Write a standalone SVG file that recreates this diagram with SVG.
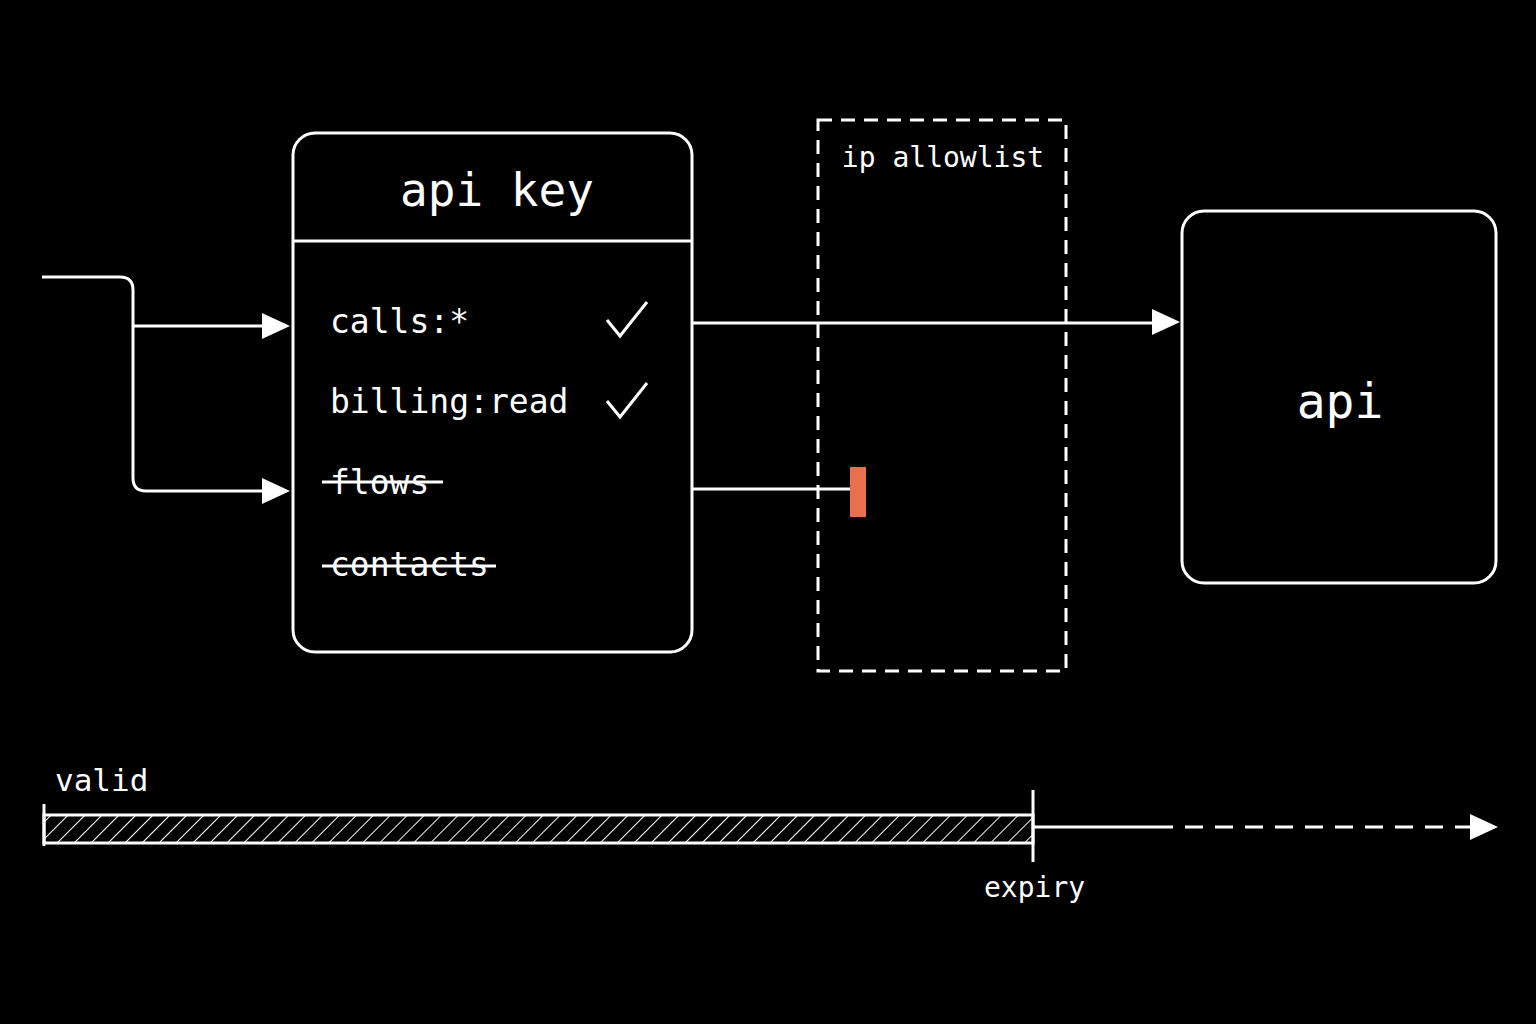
<svg xmlns="http://www.w3.org/2000/svg" width="1536" height="1024" viewBox="0 0 1536 1024">
<defs>
<style>
.s{fill:none;stroke:#fff;stroke-width:3}
.t{font-family:"DejaVu Sans Mono","Liberation Mono",monospace;fill:#fff}
</style>
<marker id="ah" viewBox="0 0 10 10" refX="9" refY="5" markerWidth="10" markerHeight="10" markerUnits="userSpaceOnUse" orient="auto"><path d="M0,0 L10,5 L0,10 Z" fill="#fff"/></marker>
<marker id="ah2" viewBox="0 0 10 10" refX="9" refY="5" markerWidth="28" markerHeight="26" markerUnits="userSpaceOnUse" orient="auto"><path d="M0,0 L10,5 L0,10 Z" fill="#fff"/></marker>
<pattern id="hatch" width="12" height="12" patternUnits="userSpaceOnUse" patternTransform="rotate(45)"><line x1="0" y1="0" x2="0" y2="12" stroke="#fff" stroke-width="2"/></pattern>
</defs>
<rect width="1536" height="1024" fill="#000"/>
<g id="connectors">
<path class="s" d="M42,277 H120 Q133,277 133,290 V478 Q133,491 146,491 H262"/>
<path class="s" d="M133,326 H262"/>
<path d="M262,313 L290,326 L262,339 Z" fill="#fff"/>
<path d="M262,478 L290,491 L262,504 Z" fill="#fff"/>
<path class="s" d="M693,323 H1152"/>
<path d="M1152,309 L1180,322 L1152,335 Z" fill="#fff"/>
<path class="s" d="M693,489 H850"/>
</g>
<g id="apikey">
<rect class="s" x="293" y="133" width="399" height="519" rx="22"/>
<line class="s" x1="293" y1="241" x2="692" y2="241"/>
<text class="t" x="497" y="206" font-size="46" text-anchor="middle">api key</text>
<text class="t" x="330" y="333" font-size="33">calls:*</text>
<text class="t" x="330" y="413" font-size="33">billing:read</text>
<text class="t" x="330" y="494" font-size="33">flows</text>
<text class="t" x="330" y="576" font-size="33">contacts</text>
<line class="s" x1="322" y1="482" x2="443" y2="482"/>
<line class="s" x1="322" y1="566" x2="496" y2="566"/>
<path class="s" d="M607,320 L620,336 L647,302"/>
<path class="s" d="M607,401 L620,417 L647,383"/>
</g>
<g id="allowlist">
<rect x="818" y="120" width="248" height="551" fill="none" stroke="#fff" stroke-width="3" stroke-dasharray="14,9"/>
<text class="t" x="943" y="167" font-size="28" text-anchor="middle">ip allowlist</text>
<rect x="850" y="467" width="16" height="50" fill="#e8704e"/>
</g>
<g id="api">
<rect class="s" x="1182" y="211" width="314" height="372" rx="22"/>
<text class="t" x="1340" y="418" font-size="48" text-anchor="middle">api</text>
</g>
<g id="timeline">
<rect x="44" y="815" width="989" height="28" fill="url(#hatch)" stroke="#fff" stroke-width="3"/>
<line class="s" x1="44" y1="804" x2="44" y2="846"/>
<line class="s" x1="1033" y1="790" x2="1033" y2="862"/>
<line class="s" x1="1033" y1="827" x2="1155" y2="827"/>
<line class="s" x1="1155" y1="827" x2="1472" y2="827" stroke-dasharray="18,12"/>
<path d="M1470,814 L1498,827 L1470,840 Z" fill="#fff"/>
<text class="t" x="55" y="791" font-size="31">valid</text>
<text class="t" x="984" y="897" font-size="28">expiry</text>
</g>
</svg>
